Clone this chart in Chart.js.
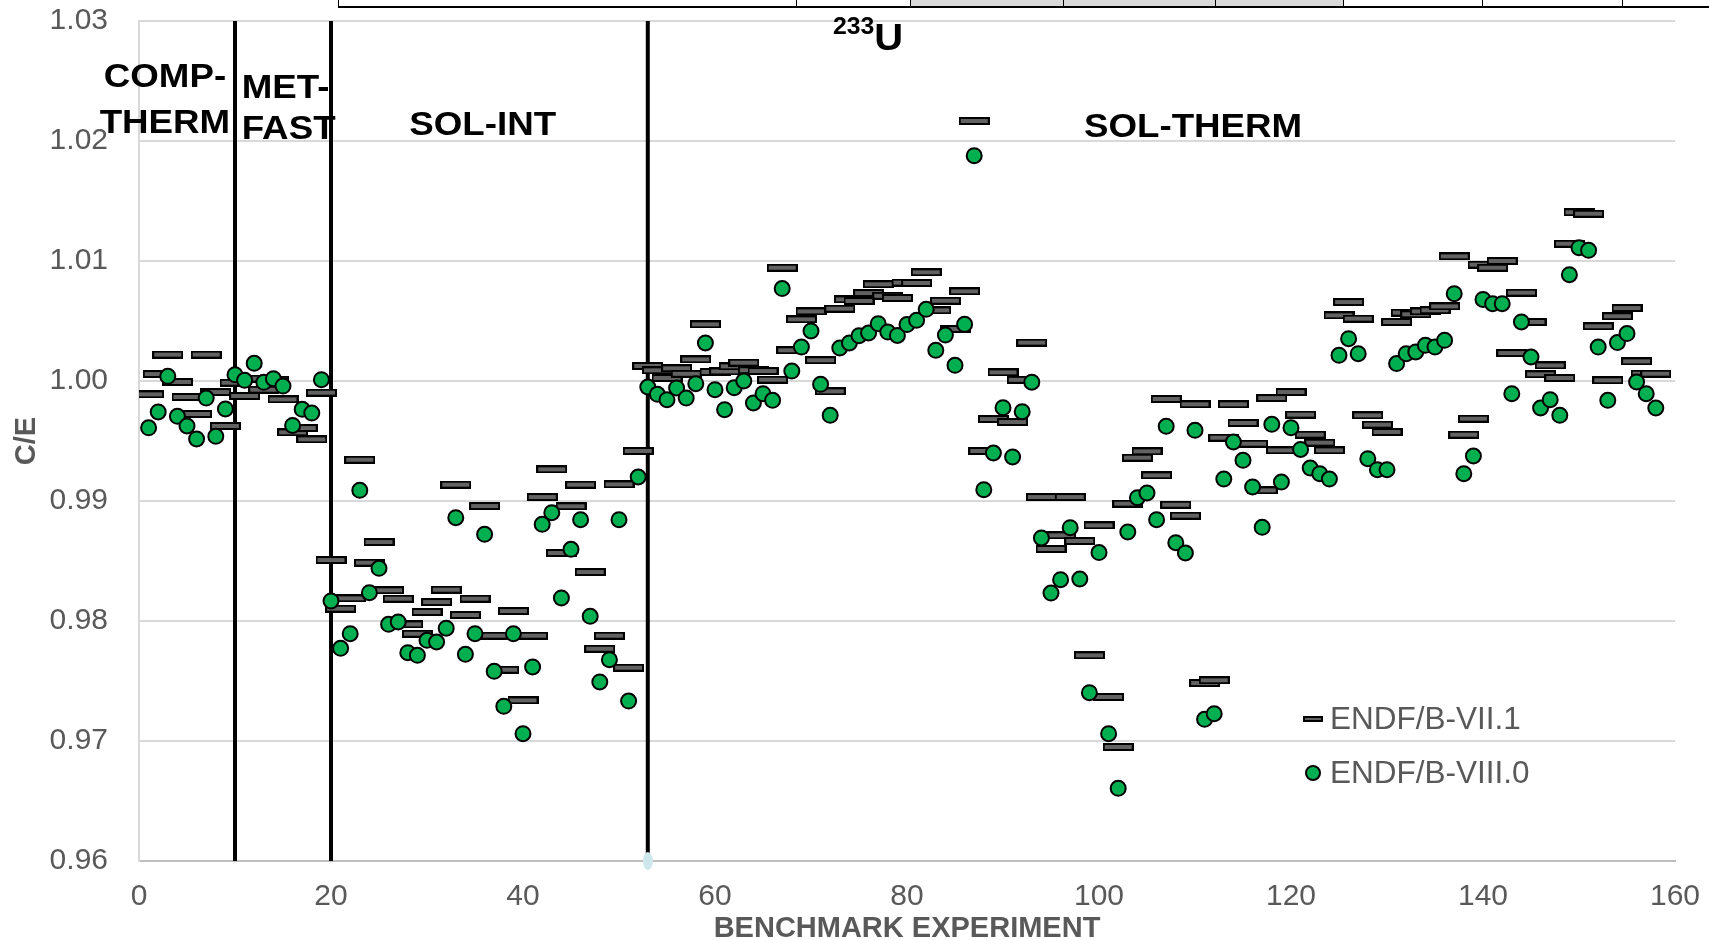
<!DOCTYPE html>
<html>
<head>
<meta charset="utf-8">
<title>C/E by benchmark experiment</title>
<script src="https://cdn.jsdelivr.net/npm/chart.js@4.4.1/dist/chart.umd.min.js"></script>
<style>
  html, body { margin: 0; padding: 0; background: #fff; }
  #wrap { position: relative; width: 1709px; height: 940px; overflow: hidden; }
  #chart { position: absolute; left: 0; top: 0; }
  /* strip of the table sitting above the chart */
  .rule { position: absolute; left: 338px; right: 0; top: 6px; height: 2px; background: #000; }
  .cell { position: absolute; top: 0; height: 7px; border-left: 1px solid #000; box-sizing: border-box; }
  .cell.shade { background: #d9d9d9; }
</style>
</head>
<body>
<div id="wrap">
  <div class="cell" style="left:338px;width:458px"></div>
  <div class="cell" style="left:796px;width:114px"></div>
  <div class="cell shade" style="left:910px;width:153px"></div>
  <div class="cell shade" style="left:1063px;width:152px"></div>
  <div class="cell shade" style="left:1215px;width:128px"></div>
  <div class="cell" style="left:1343px;width:139px"></div>
  <div class="cell" style="left:1482px;width:140px"></div>
  <div class="cell" style="left:1622px;width:87px"></div>
  <div class="rule"></div>
  <canvas id="chart" width="1709" height="940"></canvas>
</div>
<script>
// ── Data ─────────────────────────────────────────────────────────────────────
const FONT = "'Liberation Sans', Arial, sans-serif";
const GREY = '#595959';

// C/E per benchmark, ENDF/B-VII.1
const ceVII1 = [
  0.99889, 1.00058, 1.0022,  0.99992, 0.99867, 0.99725, 1.0022,  0.99908, 0.99625, 0.99986,
  0.99875, 1.0002,  0.99928, 1.0001,  0.99847, 0.99572, 0.99608, 0.99514, 0.99903, 0.98508,
  0.98103, 0.98189, 0.99344, 0.98486, 0.98658, 0.98256, 0.98186, 0.97972, 0.97894, 0.98075,
  0.98158, 0.98261, 0.99136, 0.9805,  0.98186, 0.98958, 0.97878, 0.97594, 0.98083, 0.97339,
  0.97878, 0.99033, 0.99264, 0.98567, 0.98956, 0.99136, 0.98408, 0.97769, 0.97878, 0.99139,
  0.97611, 0.99417, 1.00125, 1.00089, 1.00025, 1.00106, 1.0006,  1.0018,  1.00472, 1.00075,
  1.0008,  1.00122, 1.00153, 1.0009,  1.00083, 1.00011, 1.00944, 1.00256, 1.00514, 1.0058,
  1.00173, 0.99914, 1.00603, 1.0068,  1.00667, 1.00733, 1.00806, 1.0071,  1.00692, 1.0082,
  1.00817, 1.00906, 1.00589, 1.00669, 1.00433, 1.00747, 1.02167, 0.99417, 0.99683, 1.00072,
  0.99658, 1.0001,  1.0032,  0.99033, 0.986,   0.98714, 0.99033, 0.98667, 0.97714, 0.98797,
  0.97367, 0.9695,  0.98978, 0.99361, 0.99414, 0.99214, 0.9985,  0.98969, 0.98878, 0.99806,
  0.97483, 0.97506, 0.99528, 0.99806, 0.9965,  0.99478, 0.99089, 0.99858, 0.99422, 0.99908,
  0.9972,  0.99553, 0.99486, 0.99422, 1.00547, 1.00658, 1.0052,  0.99714, 0.99636, 0.99575,
  1.00492, 1.0057,  1.00556, 1.0058,  1.0059,  1.00622, 1.01039, 0.99553, 0.99686, 1.0097,
  1.00944, 1.01,    1.00233, 1.00736, 1.00492, 1.00056, 1.0013,  1.00025, 1.01144, 1.01406,
  1.01394, 1.00456, 1.00006, 1.0054,  1.00608, 1.00164, 1.00061, 1.00061,
];

// C/E per benchmark, ENDF/B-VIII.0
const ceVIII0 = [
  0.9961,  0.99742, 1.00039, 0.99706, 0.99625, 0.99517, 0.99858, 0.99539, 0.99767, 1.00053,
  1.00006, 1.00147, 0.99989, 1.00019, 0.99958, 0.9963,  0.99764, 0.99733, 1.00011, 0.98167,
  0.97772, 0.97894, 0.99089, 0.98236, 0.98439, 0.97972, 0.97992, 0.97736, 0.97714, 0.97839,
  0.97825, 0.9794,  0.98861, 0.97722, 0.97894, 0.98722, 0.97581, 0.97289, 0.97894, 0.97061,
  0.97617, 0.98806, 0.98903, 0.98192, 0.98597, 0.98844, 0.98039, 0.97492, 0.97678, 0.98844,
  0.97333, 0.992,   0.9995,  0.99889, 0.99844, 0.99942, 0.99858, 0.99978, 1.00317, 0.99928,
  0.99761, 0.99944, 1.0,     0.99817, 0.99894, 0.99839, 1.0077,  1.00083, 1.00283, 1.00417,
  0.99972, 0.99714, 1.00275, 1.00317, 1.00378, 1.004,   1.00478, 1.00408, 1.0038,  1.0047,
  1.00506, 1.00597, 1.00256, 1.00383, 1.00131, 1.00472, 1.01878, 0.99094, 0.994,   0.99778,
  0.99367, 0.99744, 0.9999,  0.98692, 0.98233, 0.98344, 0.98778, 0.9835,  0.97403, 0.9857,
  0.97061, 0.96606, 0.98742, 0.99028, 0.99067, 0.98844, 0.99622, 0.98653, 0.98567, 0.99589,
  0.97181, 0.97228, 0.99183, 0.99492, 0.99339, 0.99117, 0.98781, 0.99639, 0.99158, 0.99611,
  0.9943,  0.99275, 0.99228, 0.99183, 1.00214, 1.00353, 1.00228, 0.99353, 0.99261, 0.99261,
  1.00145, 1.00228, 1.00242, 1.00297, 1.00283, 1.00339, 1.00728, 0.99228, 0.99375, 1.0068,
  1.00644, 1.00644, 0.99894, 1.00492, 1.002,   0.99775, 0.99844, 0.99714, 1.00886, 1.01111,
  1.01089, 1.00283, 0.99839, 1.0032,  1.00395, 0.99992, 0.99894, 0.99775,
];

// benchmark numbers along the x axis
const benchmarkNo = ceVII1.map((_, i) => i + 1);

// boundaries between the benchmark families
const familyBreaks = [10, 20, 53];

// family names printed in the plot
const familyLabels = [
  { text: 'COMP-',     x: 2.7,   y: 1.0245, align: 'center' },
  { text: 'THERM',     x: 2.7,   y: 1.0207, align: 'center' },
  { text: 'MET-',      x: 10.7,  y: 1.0236, align: 'left' },
  { text: 'FAST',      x: 10.7,  y: 1.0202, align: 'left' },
  { text: 'SOL-INT',   x: 35.8,  y: 1.0205, align: 'center' },
  { text: 'SOL-THERM', x: 109.8, y: 1.0203, align: 'center' },
];

const X_TICKS = { min: 0, max: 160, step: 20 };
const Y_TICKS = { min: 0.96, max: 1.03, step: 0.01 };

// ── Marker images ────────────────────────────────────────────────────────────
function makeDash(w, h) {
  const c = document.createElement('canvas');
  c.width = w; c.height = h;
  const g = c.getContext('2d');
  g.fillStyle = '#000';
  g.fillRect(0, 0, w, h);
  g.fillStyle = '#626262';
  g.fillRect(2, 2, w - 4, h - 4);
  return c;
}

function makeEllipse(w, h, color) {
  const c = document.createElement('canvas');
  c.width = w; c.height = h;
  const g = c.getContext('2d');
  g.fillStyle = color;
  g.beginPath();
  g.ellipse(w / 2, h / 2, w / 2, h / 2, 0, 0, Math.PI * 2);
  g.fill();
  return c;
}

const dashMark   = makeDash(31, 8);
const dashLegend = makeDash(20, 6);
const footMark   = makeEllipse(10, 18, '#cde7ec');

// ── Plugins ──────────────────────────────────────────────────────────────────
// bold text is set a little wide, so stretch it horizontally
function wideText(ctx, text, px, py, align, stretch) {
  ctx.save();
  ctx.translate(px, py);
  ctx.scale(stretch, 1);
  ctx.textAlign = align;
  ctx.fillText(text, 0, 0);
  ctx.restore();
}

const familyText = {
  id: 'familyText',
  afterDatasetsDraw(chart) {
    const { ctx, scales: { x, y } } = chart;
    ctx.save();
    ctx.fillStyle = '#000';
    ctx.textBaseline = 'alphabetic';
    ctx.font = `bold 34px ${FONT}`;
    familyLabels.forEach(l => {
      wideText(ctx, l.text, x.getPixelForValue(l.x), y.getPixelForValue(l.y), l.align, 1.08);
    });

    // 233U tag at the top of the SOL-THERM block
    const ux = x.getPixelForValue(76.6);
    ctx.font = `bold 37px ${FONT}`;
    wideText(ctx, 'U', ux, y.getPixelForValue(1.0276), 'left', 1.08);
    ctx.font = `bold 23px ${FONT}`;
    wideText(ctx, '233', ux, y.getPixelForValue(1.0289), 'right', 1.08);
    ctx.restore();
  },
};

const insideLegend = {
  id: 'insideLegend',
  afterDraw(chart) {
    const { ctx, chartArea } = chart;
    const mx = chartArea.right - 362;
    const rows = [
      { label: 'ENDF/B-VII.1',  dy: -142, dash: true },
      { label: 'ENDF/B-VIII.0', dy: -88,  dash: false },
    ];
    ctx.save();
    ctx.font = `31.5px ${FONT}`;
    ctx.textAlign = 'left';
    ctx.textBaseline = 'middle';
    rows.forEach(r => {
      const cy = chartArea.bottom + r.dy;
      if (r.dash) {
        ctx.drawImage(dashLegend, mx - dashLegend.width / 2, cy - dashLegend.height / 2);
      } else {
        ctx.beginPath();
        ctx.arc(mx, cy, 7, 0, Math.PI * 2);
        ctx.fillStyle = '#00b050';
        ctx.fill();
        ctx.lineWidth = 2;
        ctx.strokeStyle = '#000';
        ctx.stroke();
      }
      ctx.fillStyle = GREY;
      ctx.fillText(r.label, mx + 17, cy + 1);
    });
    ctx.restore();
  },
};

// ── Datasets ─────────────────────────────────────────────────────────────────
const datasets = [
  {
    label: 'ENDF/B-VIII.0',
    data: benchmarkNo.map((n, i) => ({ x: n, y: ceVIII0[i] })),
    pointStyle: 'circle',
    pointRadius: 7.5,
    pointBorderWidth: 2,
    pointBackgroundColor: '#00b050',
    pointBorderColor: '#000',
    order: 0,
  },
  {
    label: 'ENDF/B-VII.1',
    data: benchmarkNo.map((n, i) => ({ x: n, y: ceVII1[i] })),
    pointStyle: dashMark,
    pointRadius: 4,
    order: 1,
  },
  {
    // marker left at the foot of the SOL-THERM divider
    label: 'foot',
    data: [{ x: familyBreaks[2], y: Y_TICKS.min }],
    pointStyle: footMark,
    pointRadius: 4,
    clip: false,
    order: 2,
  },
];

familyBreaks.forEach(b => {
  datasets.push({
    label: 'break ' + b,
    data: [{ x: b, y: Y_TICKS.min }, { x: b, y: Y_TICKS.max }],
    showLine: true,
    borderColor: '#000',
    borderWidth: 4,
    pointRadius: 0,
    order: 3,
  });
});

// ── Chart ────────────────────────────────────────────────────────────────────
new Chart(document.getElementById('chart'), {
  type: 'scatter',
  data: { datasets },
  plugins: [familyText, insideLegend],
  options: {
    responsive: false,
    animation: false,
    layout: { padding: { top: 21, right: 34, left: 0, bottom: 0 } },
    plugins: {
      legend: { display: false },
      tooltip: { enabled: false },
    },
    scales: {
      x: {
        type: 'linear',
        min: X_TICKS.min,
        max: X_TICKS.max,
        grid: { display: false, drawTicks: false },
        border: { display: true, color: '#bfbfbf', width: 2 },
        ticks: {
          stepSize: X_TICKS.step,
          color: GREY,
          padding: 18,
          maxRotation: 0,
          font: { family: FONT, size: 30 },
        },
        title: {
          display: true,
          text: 'BENCHMARK EXPERIMENT',
          color: GREY,
          padding: { top: 0, bottom: -3 },
          font: { family: FONT, size: 29, weight: 'bold', lineHeight: 1 },
        },
        // fixed height; the overhanging end labels must not shrink the plot
        afterFit: s => { s.height = 79; s.paddingLeft = 0; s.paddingRight = 0; },
      },
      y: {
        type: 'linear',
        min: Y_TICKS.min,
        max: Y_TICKS.max,
        grid: { color: '#d9d9d9', lineWidth: 2, drawTicks: false },
        border: { display: true, color: '#d9d9d9', width: 2 },
        ticks: {
          stepSize: Y_TICKS.step,
          color: GREY,
          padding: 31,
          font: { family: FONT, size: 30 },
          callback: v => v.toFixed(2),
        },
        title: {
          display: true,
          text: 'C/E',
          color: GREY,
          padding: { top: 10, bottom: 0 },
          font: { family: FONT, size: 29, weight: 'bold' },
        },
        afterFit: s => { s.width = 139; s.paddingTop = 0; s.paddingBottom = 0; },
      },
    },
  },
});
</script>
</body>
</html>
